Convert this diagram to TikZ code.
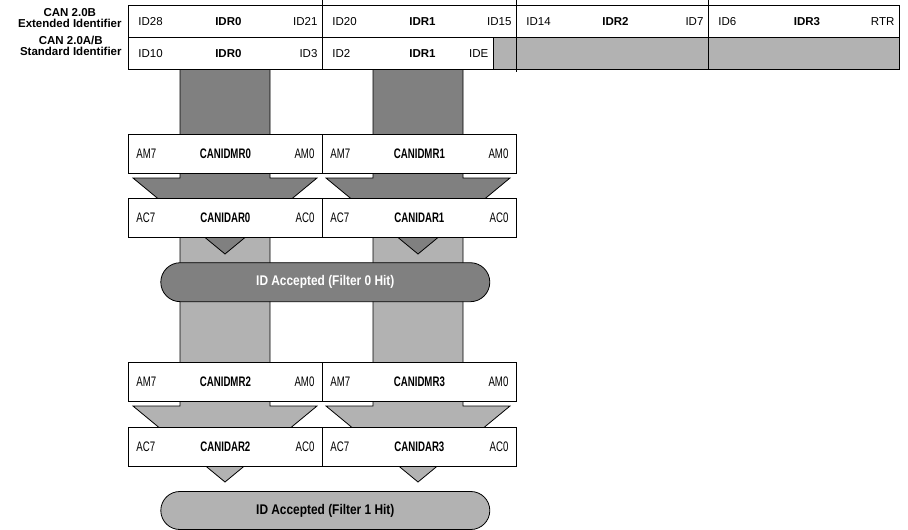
\documentclass[tikz,border=0pt]{standalone}
\usepackage{fontspec}
\setmainfont{Liberation Sans}
\newfontfamily\narrowfont[FakeStretch=0.70]{Liberation Sans}
\newfontfamily\ovalfont[FakeStretch=0.85]{Liberation Sans}
\usetikzlibrary{shapes.misc}
\definecolor{darkfill}{gray}{0.5}
\definecolor{lightfill}{gray}{0.7}
\newcommand\boxlabels[4]{%
  \node[boxtxt,anchor=west] (#1l) at ([xshift=8pt]#1.west) {#2};
  \node[boxtxt] (#1c) at (#1.center) {\bfseries #3};
  \node[boxtxt,anchor=east] (#1r) at ([xshift=-8pt]#1.east) {#4};}
\newcommand\reglabels[4]{%
  \node[regtxt,anchor=west] (#1l) at ([xshift=10pt]#1.west) {#2};
  \node[regtxt] (#1c) at ([xshift=3pt]#1.center) {\bfseries #3};
  \node[regtxt,anchor=east] (#1r) at ([xshift=-5pt]#1.east) {#4};}
\begin{document}
\begin{tikzpicture}[x=1pt,y=-1pt,line width=0.8pt,
  regcell/.style={draw=black,fill=white,inner sep=0pt,anchor=north west},
  graycell/.style={regcell,fill=lightfill},
  maskbox/.style={draw=black,fill=white,inner sep=0pt,anchor=north west,minimum width=194pt,minimum height=39pt},
  regtxt/.style={inner sep=0pt,font=\fontsize{11.5}{13}\selectfont},
  boxtxt/.style={inner sep=0pt,font=\narrowfont\fontsize{13.8}{15}\selectfont},
  lbl/.style={inner sep=0pt,align=center,anchor=east,font=\bfseries\fontsize{11.5}{10.8}\selectfont},
  accept/.style={rounded rectangle,draw=black,inner sep=0pt,minimum width=329pt,font=\ovalfont\bfseries\fontsize{14}{15}\selectfont},
  darkarrow/.style={draw=black,fill=darkfill,line join=miter},
  lightarrow/.style={draw=black,fill=lightfill,line join=miter}
]
\useasboundingbox (0,0) rectangle (908,530);

% light arrows (filter 1 path)
\draw[lightarrow] (180,230)--(180,406)--(133,406)--(225,482)--(317,406)--(270,406)--(270,230)--cycle;
\draw[lightarrow] (373,230)--(373,406)--(326,406)--(418,482)--(510,406)--(463,406)--(463,230)--cycle;
% dark arrows (filter 0 path)
\draw[darkarrow] (180,69)--(180,178)--(133,178)--(225,254)--(317,178)--(270,178)--(270,69)--cycle;
\draw[darkarrow] (373,69)--(373,178)--(326,178)--(418,254)--(510,178)--(463,178)--(463,69)--cycle;

% accepted ovals
\node[accept,fill=darkfill,text=white,minimum height=39pt] (acc0) at (325.3,282.2) {ID Accepted (Filter 0 Hit)};
\node[accept,fill=lightfill,minimum height=38pt] (acc1) at (325.3,510.5) {ID Accepted (Filter 1 Hit)};

% mask / acceptance registers
\node[maskbox] (mr0) at (128,133.5) {};
\node[maskbox] (mr1) at (322,133.5) {};
\node[maskbox] (ar0) at (128,198) {};
\node[maskbox] (ar1) at (322,198) {};
\node[maskbox] (mr2) at (128,362) {};
\node[maskbox] (mr3) at (322,362) {};
\node[maskbox] (ar2) at (128,427) {};
\node[maskbox] (ar3) at (322,427) {};
\boxlabels{mr0}{AM7}{CANIDMR0}{AM0}
\boxlabels{mr1}{AM7}{CANIDMR1}{AM0}
\boxlabels{ar0}{AC7}{CANIDAR0}{AC0}
\boxlabels{ar1}{AC7}{CANIDAR1}{AC0}
\boxlabels{mr2}{AM7}{CANIDMR2}{AM0}
\boxlabels{mr3}{AM7}{CANIDMR3}{AM0}
\boxlabels{ar2}{AC7}{CANIDAR2}{AC0}
\boxlabels{ar3}{AC7}{CANIDAR3}{AC0}

% identifier registers
\node[regcell,minimum width=194pt,minimum height=31.5pt] (e0) at (128,5) {};
\node[regcell,minimum width=194pt,minimum height=31.5pt] (e1) at (322,5) {};
\node[regcell,minimum width=192pt,minimum height=31.5pt] (e2) at (516,5) {};
\node[regcell,minimum width=191pt,minimum height=31.5pt] (e3) at (708,5) {};
\node[regcell,minimum width=194pt,minimum height=32.5pt] (s0) at (128,36.5) {};
\node[regcell,minimum width=171pt,minimum height=32.5pt] (s1) at (322,36.5) {};
\node[graycell,minimum width=23pt,minimum height=32.5pt] (g1) at (493,36.5) {};
\node[graycell,minimum width=192pt,minimum height=32.5pt] (g2) at (516,36.5) {};
\node[graycell,minimum width=191pt,minimum height=32.5pt] (g3) at (708,36.5) {};
\reglabels{e0}{ID28}{IDR0}{ID21}
\reglabels{e1}{ID20}{IDR1}{ID15}
\reglabels{e2}{ID14}{IDR2}{ID7}
\reglabels{e3}{ID6}{IDR3}{RTR}
\reglabels{s0}{ID10}{IDR0}{ID3}
\node[regtxt,anchor=west] (s1l) at ([xshift=10pt]s1.west) {ID2};
\node[regtxt] (s1c) at ([xshift=3pt]e1.center |- s1.center) {\bfseries IDR1};
\node[regtxt,anchor=east] (s1r) at ([xshift=-5pt]s1.east) {IDE};
% small divider extensions
\draw (e0.north east) -- ++(0,-5);
\draw (e1.north east) -- ++(0,-5);
\draw (e2.north east) -- ++(0,-5);
\draw (g1.south east) -- ++(0,2);

% row labels
\node[lbl] (extlbl) at (122,18) {CAN 2.0B\\Extended Identifier};
\node[lbl] (stdlbl) at (122,45.5) {CAN 2.0A/B\\Standard Identifier};
\end{tikzpicture}
\end{document}
